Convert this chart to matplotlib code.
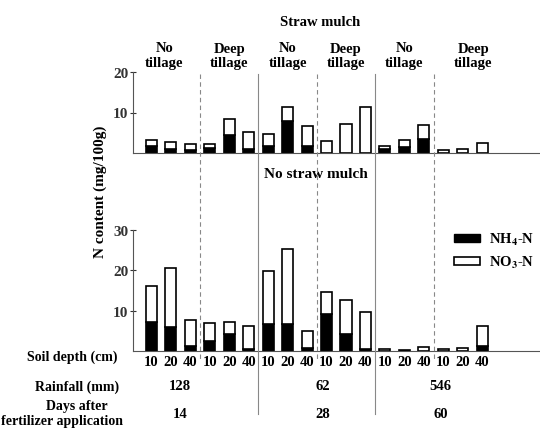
import matplotlib
matplotlib.use('Agg')
import matplotlib.pyplot as plt
import numpy as np
from matplotlib import transforms
from matplotlib.patches import Patch

# --- data ---
depths = ['10', '20', '40']
tillage = ['No\ntillage', 'Deep\ntillage'] * 3
rainfall = ['128', '62', '546']
days = ['14', '28', '60']

# straw mulch: totals and NH4 part (mg/100g)
mulch_total = [3.2, 2.6, 2.1, 2.1, 8.5, 5.2, 4.7, 11.3, 6.7, 3.0, 7.2, 11.3, 1.8, 3.3, 6.8, 0.7, 0.9, 2.4]
mulch_nh4 = [1.8, 1.0, 0.8, 1.2, 4.4, 0.9, 1.8, 7.9, 1.8, 0.0, 0.0, 0.0, 1.0, 1.4, 3.4, 0.0, 0.0, 0.0]
# no straw mulch
bare_total = [16.2, 20.7, 7.7, 7.0, 7.2, 6.3, 19.8, 25.4, 4.9, 14.6, 12.6, 9.6, 0.4, 0.3, 1.0, 0.4, 0.8, 6.1]
bare_nh4 = [7.3, 5.9, 1.2, 2.4, 4.3, 0.6, 6.7, 6.7, 0.8, 9.2, 4.3, 0.6, 0.0, 0.0, 0.0, 0.0, 0.0, 1.2]

plt.rcParams['font.family'] = ['Liberation Serif', 'DejaVu Serif']
plt.rcParams['font.weight'] = 'bold'
plt.rcParams['mathtext.fontset'] = 'stix'

W, H = 540, 439
fig = plt.figure(figsize=(W / 100, H / 100), dpi=100)

def px(x0, y0, x1, y1):
    # pixel box (top-left origin) -> figure fraction
    return [x0 / W, 1 - y1 / H, (x1 - x0) / W, (y1 - y0) / H]

ax1 = fig.add_axes(px(133, 73, 540, 154))
ax2 = fig.add_axes(px(133, 231, 540, 352))

x = np.arange(18)
bw = 0.57
for ax, tot, nh4, top in [(ax1, mulch_total, mulch_nh4, 20), (ax2, bare_total, bare_nh4, 30)]:
    tot = np.array(tot)
    nh4 = np.array(nh4)
    ax.bar(x, nh4, bw, color='black', edgecolor='black', linewidth=1.2)
    ax.bar(x, tot - nh4, bw, bottom=nh4, color='white', edgecolor='black', linewidth=1.2)
    ax.set_xlim(-0.95, 19.97)
    ax.set_ylim(0, top)
    ax.set_yticks(np.arange(10, top + 1, 10))
    ax.spines['top'].set_visible(False)
    ax.spines['right'].set_visible(False)
    ax.spines['left'].set_color('#555555')
    ax.spines['bottom'].set_color('#555555')
    ax.tick_params(axis='y', direction='inout', length=5, width=0.8, labelsize=11, pad=1, colors='#333333')
    ax.patch.set_alpha(0)

ax1.set_xticks([])
ax2.set_xticks(x)
ax2.set_xticklabels(depths * 6, fontsize=10.5)
ax2.tick_params(axis='x', length=0, pad=3)

# separators between groups
tr = transforms.blended_transform_factory(ax1.transData, fig.transFigure)
for i, sep in enumerate([2.5, 5.5, 8.5, 11.5, 14.5]):
    if i % 2 == 1:
        fig.add_artist(plt.Line2D([sep, sep], [1 - 75 / H, 1 - 415 / H], transform=tr,
                                  color='#888888', lw=0.8))
    else:
        fig.add_artist(plt.Line2D([sep, sep], [1 - 75 / H, 1 - 362 / H], transform=tr,
                                  color='#888888', lw=0.8, ls=(0, (4, 3))))

# headers
fig.text(320 / W, 1 - 22 / H, 'Straw mulch', ha='center', va='center', fontsize=10.5)
for g, lab in enumerate(tillage):
    cx = 3 * g + 1
    if g == 5:
        cx += 0.55
    elif g == 0:
        cx -= 0.35
    fig.text(cx, 1 - 56 / H, lab, ha='center', va='center', fontsize=10.5, transform=tr, linespacing=1.1)
fig.text(8.45, 1 - 175 / H, 'No straw mulch', ha='center', va='center', fontsize=11, transform=tr)

# bottom table rows
fig.text(72 / W, 1 - 357 / H, 'Soil depth (cm)', ha='center', va='center', fontsize=10)
fig.text(77 / W, 1 - 387 / H, 'Rainfall (mm)', ha='center', va='center', fontsize=10)
fig.text(77 / W, 1 - 407 / H, 'Days after', ha='center', va='center', fontsize=10)
fig.text(62 / W, 1 - 422 / H, 'fertilizer application', ha='center', va='center', fontsize=10)
for k in range(3):
    cx = [1.45, 8.8, 14.85][k]
    fig.text(cx, 1 - 387 / H, rainfall[k], ha='center', va='center', fontsize=10.5, transform=tr)
    fig.text(cx, 1 - 415 / H, days[k], ha='center', va='center', fontsize=10.5, transform=tr)

fig.text(100 / W, 1 - 192 / H, 'N content (mg/100g)', rotation=90, ha='center', va='center', fontsize=11)

handles = [Patch(facecolor='black', edgecolor='black'), Patch(facecolor='white', edgecolor='black', linewidth=1.2)]
fig.legend(handles, ['NH$_4$-N', 'NO$_3$-N'], loc='upper left', bbox_to_anchor=(448 / W, 1 - 226 / H),
           frameon=False, fontsize=10.5, handlelength=1.8, handleheight=0.5, handletextpad=0.6,
           labelspacing=0.5, borderaxespad=0)

fig.savefig('out.png', dpi=100)
